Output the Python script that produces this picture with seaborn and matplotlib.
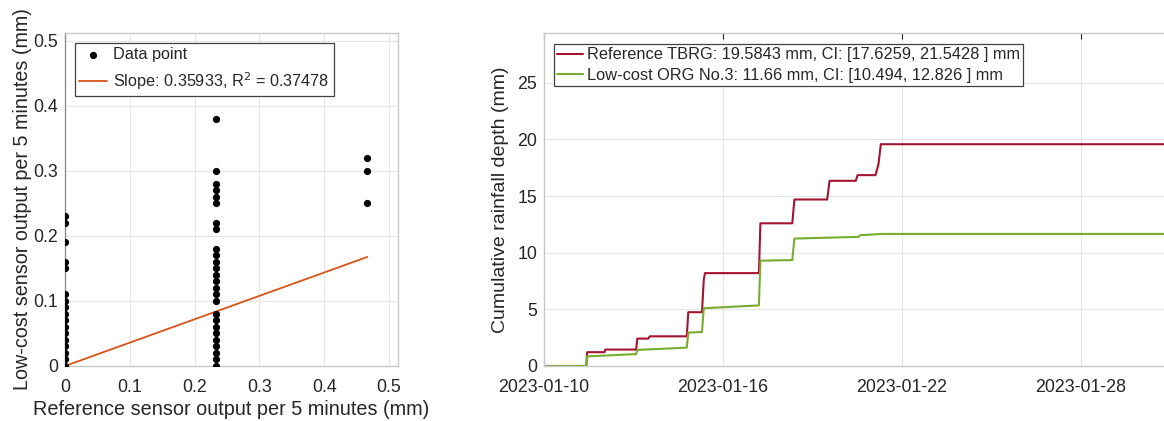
import matplotlib
matplotlib.use('Agg')
import matplotlib.pyplot as plt
import matplotlib.dates as mdates
import seaborn as sns
import pandas as pd
import numpy as np

# ---- scatter data (per 5 minutes, mm) ----
ref_x_0 = [0.0] * 17
low_y_0 = [0.00, 0.01, 0.02, 0.03, 0.04, 0.05, 0.06, 0.07, 0.08, 0.09, 0.10, 0.11,
           0.15, 0.16, 0.19, 0.22, 0.23]
ref_x_1 = [0.2333] * 26
low_y_1 = [0.00, 0.01, 0.02, 0.03, 0.04, 0.05, 0.06, 0.07, 0.08,
           0.10, 0.11, 0.12, 0.13, 0.14, 0.15, 0.16, 0.17, 0.18,
           0.21, 0.22, 0.25, 0.26, 0.27, 0.28, 0.30, 0.38]
ref_x_2 = [0.4667, 0.4667, 0.4667]
low_y_2 = [0.25, 0.30, 0.32]
slope = 0.35933
r2 = 0.37478

# ---- cumulative rainfall (mm) ----
tbrg_time = ['2023-01-10 00:00', '2023-01-11 10:05', '2023-01-11 10:48', '2023-01-12 00:43',
             '2023-01-12 01:26', '2023-01-13 02:10', '2023-01-13 03:07', '2023-01-13 12:00',
             '2023-01-13 13:12', '2023-01-14 18:58', '2023-01-14 20:10', '2023-01-15 07:12',
             '2023-01-15 08:38', '2023-01-15 09:36', '2023-01-17 05:02', '2023-01-17 06:14',
             '2023-01-18 07:55', '2023-01-18 09:36', '2023-01-19 12:00', '2023-01-19 13:55',
             '2023-01-20 11:02', '2023-01-20 12:29', '2023-01-21 02:53', '2023-01-21 05:17',
             '2023-01-21 07:12', '2023-01-30 19:12']
tbrg_depth = [0.0, 0.0, 1.22, 1.22,
              1.45, 1.45, 2.42, 2.42,
              2.62, 2.62, 4.75, 4.75,
              7.6, 8.2, 8.2, 12.6,
              12.6, 14.7, 14.7, 16.35,
              16.35, 16.85, 16.85, 17.8,
              19.58, 19.58]
org_time = ['2023-01-10 00:00', '2023-01-11 10:05', '2023-01-11 10:48', '2023-01-13 02:10',
            '2023-01-13 03:07', '2023-01-14 18:58', '2023-01-14 20:10', '2023-01-15 07:12',
            '2023-01-15 08:38', '2023-01-17 05:02', '2023-01-17 06:14', '2023-01-18 07:55',
            '2023-01-18 09:36', '2023-01-20 13:12', '2023-01-20 14:24', '2023-01-21 08:24',
            '2023-01-30 19:12']
org_depth = [0.0, 0.0, 0.85, 1.05,
             1.42, 1.62, 2.95, 3.0,
             5.1, 5.35, 9.3, 9.35,
             11.25, 11.4, 11.55, 11.66,
             11.66]
tbrg_label = 'Reference TBRG: 19.5843 mm, CI: [17.6259, 21.5428 ] mm'
org_label = 'Low-cost ORG No.3: 11.66 mm, CI: [10.494, 12.826 ] mm'

sns.set_theme(style='whitegrid')
plt.rcParams['font.family'] = ['Liberation Sans', 'DejaVu Sans']
text_c = '#262626'

fig = plt.figure(figsize=(11.64, 4.21), dpi=100)
ax1 = fig.add_axes([65 / 1164, 55 / 421, 333 / 1164, 333 / 421])
ax2 = fig.add_axes([544 / 1164, 55 / 421, 620 / 1164, 333 / 421])

# left: scatter + fit
scat = pd.DataFrame({'ref': ref_x_0 + ref_x_1 + ref_x_2,
                     'low': low_y_0 + low_y_1 + low_y_2})
sns.scatterplot(data=scat, x='ref', y='low', ax=ax1, color='black', s=27,
                linewidth=0, label='Data point', zorder=3)
fit_x = np.array([0.0, scat['ref'].max()])
sns.lineplot(x=fit_x, y=slope * fit_x, ax=ax1, color='#D95319', linewidth=1.3,
             label=f'Slope: {slope}, R$^2$ = {r2}', zorder=2)
ax1.set_xlim(0, 0.514)
ax1.set_ylim(0, 0.512)
ax1.set_xticks([0, 0.1, 0.2, 0.3, 0.4, 0.5])
ax1.set_xticklabels(['0', '0.1', '0.2', '0.3', '0.4', '0.5'])
ax1.set_yticks([0, 0.1, 0.2, 0.3, 0.4, 0.5])
ax1.set_yticklabels(['0', '0.1', '0.2', '0.3', '0.4', '0.5'])
ax1.set_xlabel('Reference sensor output per 5 minutes (mm)', fontsize=14.3, color=text_c, labelpad=3)
ax1.set_ylabel('Low-cost sensor output per 5 minutes (mm)', fontsize=14.2, color=text_c, labelpad=1)
leg1 = ax1.legend(loc='upper left', bbox_to_anchor=(0.03, 0.97), fontsize=11.7, frameon=True,
                  fancybox=False, edgecolor='#404040', framealpha=1, handlelength=1.7,
                  handletextpad=0.4, borderpad=0.25, labelspacing=0.5, borderaxespad=0)
leg1.get_frame().set_linewidth(0.9)

# right: cumulative rainfall
tb = pd.DataFrame({'time': pd.to_datetime(tbrg_time), 'depth': tbrg_depth})
og = pd.DataFrame({'time': pd.to_datetime(org_time), 'depth': org_depth})
sns.lineplot(data=tb, x='time', y='depth', ax=ax2, color='#A2142F', linewidth=1.5,
             label=tbrg_label, estimator=None, sort=False)
sns.lineplot(data=og, x='time', y='depth', ax=ax2, color='#77AC30', linewidth=1.5,
             label=org_label, estimator=None, sort=False)
ax2.set_xlim(pd.Timestamp('2023-01-10 00:00'), pd.Timestamp('2023-01-30 19:12'))
ax2.set_ylim(0, 29.4)
ax2.set_xticks(pd.to_datetime(['2023-01-10', '2023-01-16', '2023-01-22', '2023-01-28']))
ax2.xaxis.set_major_formatter(mdates.DateFormatter('%Y-%m-%d'))
ax2.set_yticks([0, 5, 10, 15, 20, 25])
ax2.set_xlabel('')
ax2.set_ylabel('Cumulative rainfall depth (mm)', fontsize=14, color=text_c, labelpad=6)
leg2 = ax2.legend(loc='upper left', bbox_to_anchor=(0.016, 0.967), fontsize=11.8, frameon=True,
                  fancybox=False, edgecolor='#404040', framealpha=1, handlelength=1.55,
                  handletextpad=0.25, borderpad=0.2, labelspacing=0.34, borderaxespad=0)
leg2.get_frame().set_linewidth(0.9)

for ax in (ax1, ax2):
    ax.grid(True, color='#e6e6e6', linewidth=0.8)
    ax.tick_params(axis='both', which='major', labelsize=12.8, colors=text_c,
                   direction='in', length=4, width=0.8, top=True, right=False)
    ax.tick_params(axis='x', pad=9)
    ax.tick_params(axis='y', pad=5)
    for side, sp in ax.spines.items():
        sp.set_color('#c8c8c8')
        sp.set_linewidth(1.0)
ax1.spines['left'].set_color('#909090')
ax1.tick_params(axis='x', top=False)
ax2.spines['right'].set_visible(False)

plt.savefig('out.png', dpi=100)
